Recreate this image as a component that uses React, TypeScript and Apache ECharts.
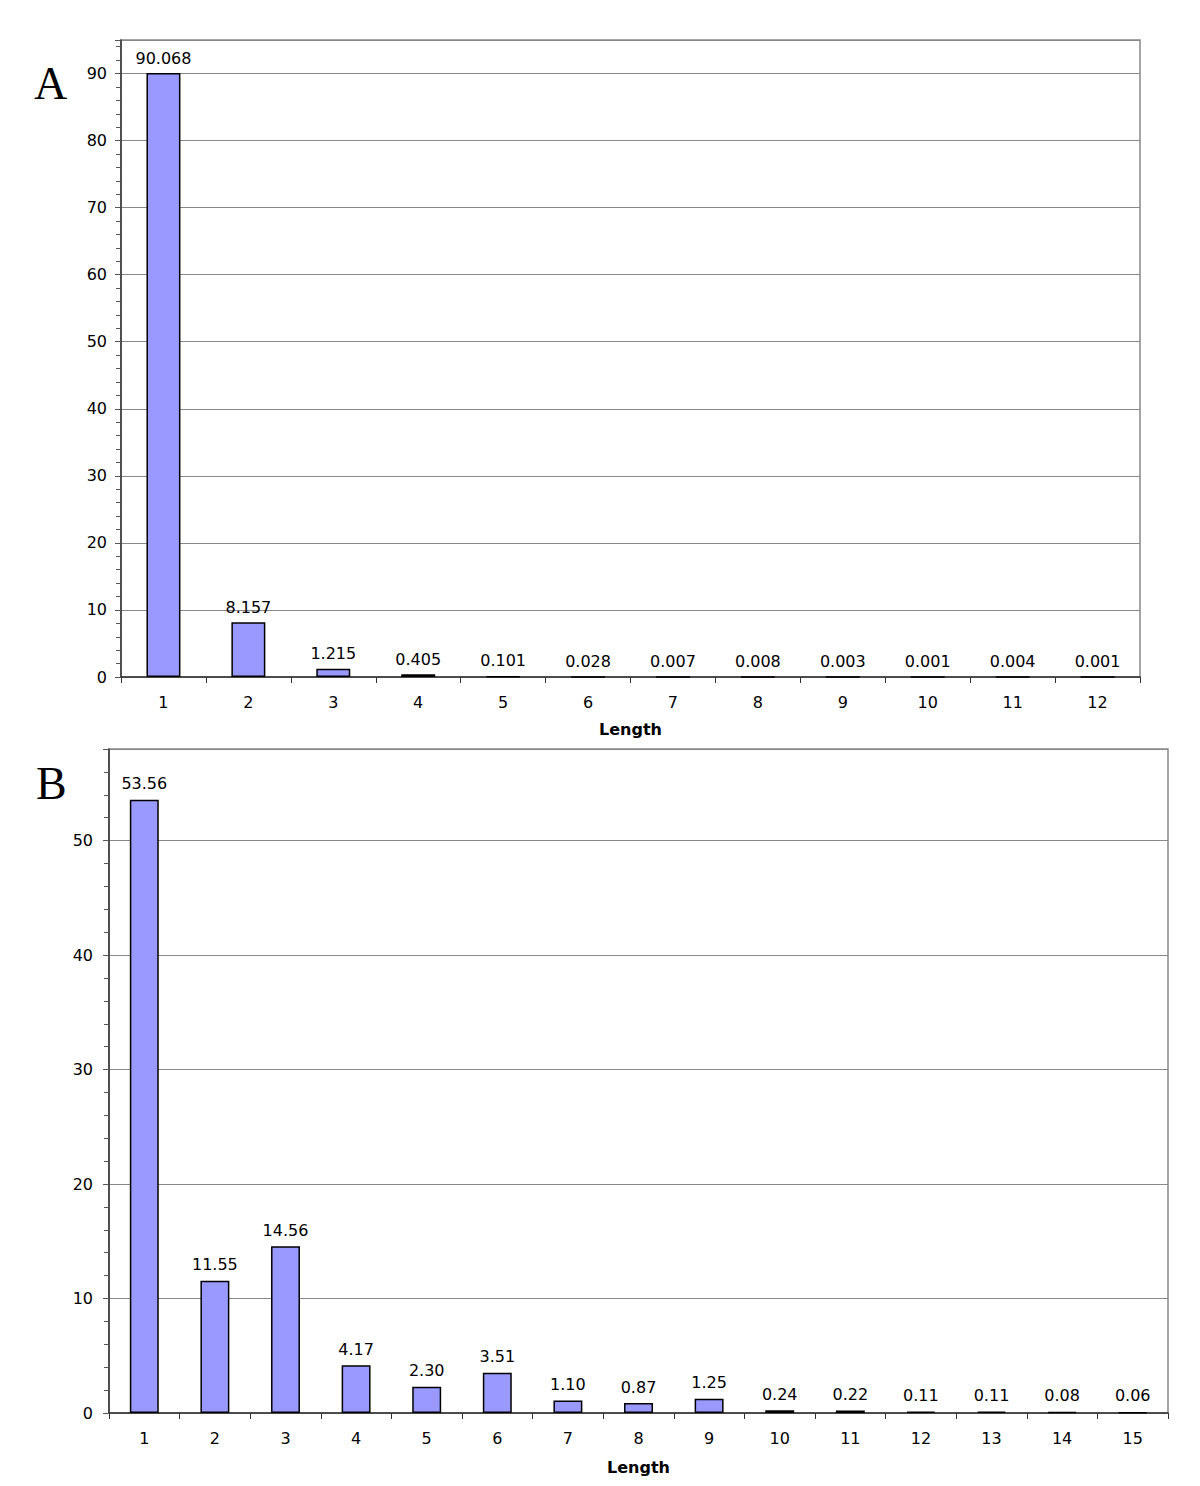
import React, { useEffect, useRef } from "react";
import * as echarts from "echarts";

const categoriesA = ["1", "2", "3", "4", "5", "6", "7", "8", "9", "10", "11", "12"];
const valuesA = [90.068, 8.157, 1.215, 0.405, 0.101, 0.028, 0.007, 0.008, 0.003, 0.001, 0.004, 0.001];
const labelsA = ["90.068", "8.157", "1.215", "0.405", "0.101", "0.028", "0.007", "0.008", "0.003", "0.001", "0.004", "0.001"];

const categoriesB = ["1", "2", "3", "4", "5", "6", "7", "8", "9", "10", "11", "12", "13", "14", "15"];
const valuesB = [53.56, 11.55, 14.56, 4.17, 2.3, 3.51, 1.1, 0.87, 1.25, 0.24, 0.22, 0.11, 0.11, 0.08, 0.06];
const labelsB = ["53.56", "11.55", "14.56", "4.17", "2.30", "3.51", "1.10", "0.87", "1.25", "0.24", "0.22", "0.11", "0.11", "0.08", "0.06"];

const FONT = "DejaVu Sans, Verdana, sans-serif";

export default function App() {
  const ref = useRef<HTMLDivElement>(null);
  useEffect(() => {
    if (!ref.current) return;
    const chart = echarts.init(ref.current, null, { renderer: "svg" });
    const xAxisCommon = (idx: number, cats: string[], nameGap: number) => ({
      type: "category",
      gridIndex: idx,
      data: cats,
      boundaryGap: true,
      name: "Length",
      nameLocation: "middle",
      nameGap,
      nameTextStyle: { fontFamily: FONT, fontSize: 16, fontWeight: "bold", color: "#000" },
      axisLine: { show: true, lineStyle: { color: "#333", width: 1.5 } },
      axisTick: { show: true, alignWithLabel: false, length: 6, lineStyle: { color: "#333", width: 1 } },
      axisLabel: { fontFamily: FONT, fontSize: 16, color: "#000", margin: 17, interval: 0 },
      splitLine: { show: false },
    });
    const yAxisCommon = (idx: number, max: number, margin: number) => ({
      type: "value",
      gridIndex: idx,
      min: 0,
      max,
      interval: 10,
      axisLine: { show: true, lineStyle: { color: "#333", width: 1.5 } },
      axisTick: { show: true, length: 6, inside: false, lineStyle: { color: "#555", width: 1 } },
      minorTick: { show: true, splitNumber: 5, length: 5, lineStyle: { color: "#555", width: 1 } },
      axisLabel: {
        fontFamily: FONT,
        fontSize: 16,
        color: "#000",
        margin,
        showMaxLabel: false,
        formatter: (v: number) => (v % 10 === 0 ? String(v) : ""),
      },
      splitLine: { show: true, lineStyle: { color: "#888", width: 1 } },
      minorSplitLine: { show: false },
    });
    const barStyle = {
      color: "#9999FF",
      borderColor: "#000",
      borderWidth: 1.5,
    };
    chart.setOption({
      animation: false,
      backgroundColor: "#fff",
      grid: [
        { left: 121, top: 40, width: 1019, height: 637, show: true, borderColor: "#888", borderWidth: 1.5, backgroundColor: "transparent" },
        { left: 109, top: 749, width: 1059, height: 664, show: true, borderColor: "#888", borderWidth: 1.5, backgroundColor: "transparent" },
      ],
      xAxis: [xAxisCommon(0, categoriesA, 44), xAxisCommon(1, categoriesB, 46)],
      yAxis: [yAxisCommon(0, 95, 14), yAxisCommon(1, 58, 16)],
      graphic: [
        { type: "text", left: 34, top: 60, style: { text: "A", fontFamily: "Liberation Serif, serif", fontSize: 46, fill: "#000" } },
        { type: "text", left: 36, top: 760, style: { text: "B", fontFamily: "Liberation Serif, serif", fontSize: 46, fill: "#000" } },
      ],
      series: [
        {
          type: "bar",
          xAxisIndex: 0,
          yAxisIndex: 0,
          data: valuesA,
          barWidth: "40%",
          itemStyle: barStyle,
          label: {
            show: true,
            position: "top",
            distance: 7,
            fontFamily: FONT,
            fontSize: 16,
            color: "#000",
            formatter: (p: any) => labelsA[p.dataIndex],
          },
        },
        {
          type: "bar",
          xAxisIndex: 1,
          yAxisIndex: 1,
          data: valuesB,
          barWidth: "41%",
          itemStyle: barStyle,
          label: {
            show: true,
            position: "top",
            distance: 8,
            fontFamily: FONT,
            fontSize: 16,
            color: "#000",
            formatter: (p: any) => labelsB[p.dataIndex],
          },
        },
      ],
    });
    return () => chart.dispose();
  }, []);
  return (
    <div
      ref={ref}
      style={{ position: "absolute", left: 0, top: 0, width: 1200, height: 1486, background: "#fff" }}
    />
  );
}
